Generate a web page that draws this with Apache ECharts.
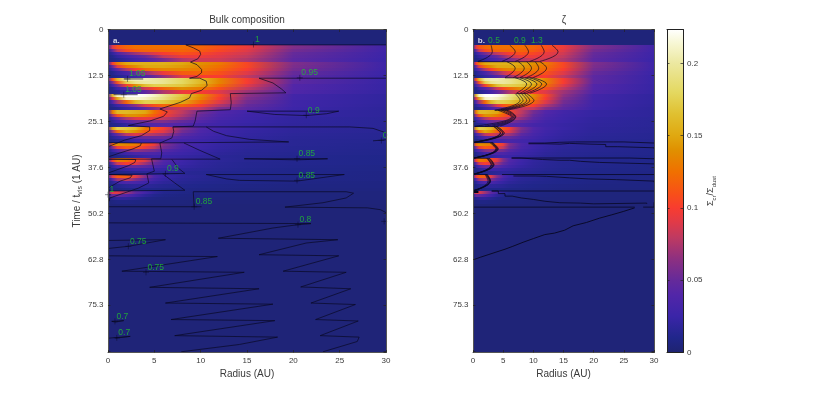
<!DOCTYPE html>
<html><head><meta charset="utf-8">
<style>html,body{margin:0;padding:0;background:#fff}#c{width:830px;height:397px}</style>
<script src="https://cdn.jsdelivr.net/npm/echarts@6/dist/echarts.min.js"></script>
</head><body><div id="c"></div>
<script>
// ---- tick labels
const radiusTicks = [0,5,10,15,20,25,30];
const timeTickLabels = ['0','12.5','25.1','37.6','50.2','62.8','75.3'];
const colorTicks = [0,0.05,0.1,0.15,0.2];
// ---- colour scale
const cmapValues = [0,.01,.025,.04,.05,.065,.08,.09,.1,.11,.125,.14,.15,.165,.18,.2,.215,.2235];
const cmapColors = ['#1e2370','#20268a','#3a25a8','#5226a8','#652a9a','#8e3080','#c03a60','#e03a48','#f83c30','#f85018','#f07000','#e09000','#e0a810','#e0c030','#e4d860','#ece8a0','#f8f8d8','#ffffff'];
// ---- field samples: radius columns, band start times, 5 read rows per band
const radii = [0,.5,1,2,3,4,5,6,8,10,12,15,20,30];
const bandStarts = [4.3,8.8,13.2,17.5,22.1,26.5,30.9,35.2,39.6,44.1,48.4];
const quietTop = [.004,.004,.004,.004,.004,.004,.004,.004,.004,.004,.004,.004,.004,.004];
const quietBottom = [.003,.003,.003,.003,.003,.003,.003,.003,.003,.003,.003,.003,.003,.003];
const band1 = [[.03,.09,.11,.12,.125,.125,.125,.125,.125,.12,.11,.095,.06,.028],[.012,.05,.08,.105,.115,.12,.12,.12,.12,.115,.105,.09,.055,.028],[.008,.02,.035,.055,.07,.08,.09,.1,.11,.105,.095,.085,.05,.027],[.006,.012,.02,.03,.04,.05,.065,.08,.095,.095,.09,.08,.048,.026],[.005,.008,.012,.02,.028,.035,.045,.055,.075,.085,.085,.075,.045,.025]];
const band2 = [[.03,.1,.13,.15,.155,.155,.155,.155,.15,.14,.13,.105,.06,.027],[.012,.05,.09,.125,.14,.15,.15,.15,.145,.135,.125,.105,.058,.027],[.008,.025,.045,.075,.1,.12,.13,.135,.135,.13,.12,.1,.055,.026],[.006,.012,.02,.032,.05,.065,.08,.095,.115,.12,.11,.09,.05,.025],[.005,.008,.012,.02,.027,.037,.05,.065,.09,.1,.1,.08,.045,.024]];
const band3 = [[.04,.11,.16,.2,.205,.205,.2,.195,.18,.16,.135,.1,.045,.024],[.015,.06,.11,.175,.195,.2,.2,.195,.18,.16,.135,.1,.045,.024],[.008,.03,.055,.1,.14,.165,.175,.175,.17,.15,.125,.09,.04,.023],[.006,.012,.025,.04,.06,.085,.105,.12,.14,.13,.11,.08,.04,.023],[.005,.008,.012,.02,.03,.045,.06,.075,.095,.1,.09,.07,.038,.022]];
const band4 = [[.05,.16,.21,.225,.225,.22,.21,.195,.17,.14,.105,.065,.03,.02],[.02,.09,.15,.21,.215,.21,.2,.19,.165,.135,.1,.06,.03,.02],[.01,.04,.07,.12,.16,.175,.175,.17,.15,.12,.09,.055,.028,.02],[.006,.015,.025,.045,.065,.09,.11,.12,.12,.1,.075,.05,.028,.019],[.005,.008,.012,.022,.032,.045,.06,.075,.085,.08,.06,.045,.026,.018]];
const band5 = [[.04,.13,.16,.16,.155,.15,.125,.105,.08,.055,.04,.03,.022,.018],[.015,.07,.11,.14,.14,.13,.115,.1,.075,.05,.037,.028,.022,.018],[.008,.03,.05,.075,.09,.095,.09,.08,.065,.045,.034,.027,.02,.017],[.006,.015,.025,.04,.05,.055,.06,.06,.05,.04,.03,.025,.02,.016],[.005,.01,.012,.02,.03,.035,.04,.042,.04,.032,.028,.023,.019,.016]];
const band6 = [[.05,.15,.175,.17,.16,.13,.115,.1,.06,.04,.03,.024,.018,.015],[.015,.07,.12,.15,.14,.115,.1,.09,.055,.037,.028,.022,.018,.015],[.008,.03,.05,.08,.09,.08,.075,.07,.045,.033,.026,.021,.017,.014],[.006,.015,.022,.035,.045,.05,.05,.05,.037,.03,.024,.02,.016,.014],[.005,.008,.012,.018,.025,.03,.032,.034,.03,.026,.022,.018,.015,.013]];
const band7 = [[.04,.12,.14,.135,.13,.11,.095,.06,.036,.028,.022,.018,.015,.012],[.012,.06,.095,.115,.11,.095,.08,.055,.034,.026,.021,.017,.014,.012],[.007,.025,.04,.06,.065,.06,.055,.042,.03,.024,.02,.016,.014,.011],[.005,.012,.018,.028,.035,.036,.036,.032,.026,.022,.018,.015,.013,.011],[.005,.008,.01,.015,.02,.024,.026,.025,.022,.019,.016,.014,.012,.01]];
const band8 = [[.035,.1,.13,.125,.105,.09,.06,.04,.027,.02,.017,.014,.012,.01],[.012,.05,.085,.1,.09,.07,.05,.036,.025,.019,.016,.013,.012,.01],[.006,.02,.035,.05,.05,.045,.036,.03,.022,.018,.015,.013,.011,.009],[.005,.01,.015,.022,.026,.026,.024,.022,.018,.016,.014,.012,.01,.009],[.005,.007,.009,.012,.015,.017,.018,.017,.015,.014,.012,.011,.01,.008]];
const band9 = [[.03,.09,.115,.115,.09,.06,.036,.025,.018,.015,.012,.011,.009,.008],[.01,.04,.07,.08,.06,.042,.03,.022,.016,.014,.012,.01,.009,.008],[.006,.016,.028,.036,.034,.028,.022,.018,.014,.012,.011,.01,.008,.007],[.005,.008,.012,.016,.018,.017,.015,.013,.011,.01,.009,.008,.007,.007],[.005,.006,.007,.009,.01,.01,.01,.009,.009,.008,.008,.007,.006,.006]];
const band10 = [[.05,.09,.09,.07,.045,.03,.018,.012,.009,.007,.006,.006,.005,.005],[.015,.05,.05,.04,.028,.018,.012,.009,.007,.006,.006,.005,.005,.005],[.006,.014,.018,.018,.014,.01,.008,.007,.006,.005,.005,.005,.005,.005],[.004,.006,.008,.008,.007,.006,.005,.005,.005,.004,.004,.004,.004,.004],[.003,.004,.004,.004,.004,.004,.004,.004,.004,.004,.003,.003,.003,.003]];
// ---- panel a contours [radius, time]
const cA100a = [[30,4.2],[8.4,4.2],[9.2,5],[9.9,5.9],[10,6.8],[9.7,8],[8.9,8.9],[9.6,9.6],[10.1,10.9],[10.1,11.8],[9.6,12.8],[8.8,13.3],[9.9,13.3],[10.6,14.1],[10.7,15.3],[10.1,16.6],[9,17.5],[8.8,18.7],[7.8,19.9],[5.6,21.7],[6.4,22.5],[6,23.7],[4.5,25],[2.2,26.2],[4.5,26.6],[4.5,27.6],[3.6,29],[1.8,30.2],[0,32]];
const cA100b = [[0,30.9],[3.6,31],[3.5,31.7],[2.7,32.6],[1.3,33.7],[0,34.8]];
const cA100c = [[0,35.4],[3,35.5],[2.9,36.3],[2.2,37.2],[0,39.2]];
const cA100d = [[0,39.6],[2.6,39.8],[2.4,40.5],[1.3,41.4],[0,43.3]];
const cA105a = [[1.7,13.5],[3.8,13.5]];
const cA105b = [[.6,17.8],[3.2,17.8]];
const cA095 = [[30,13.3],[16.3,13.3],[17.8,14.6],[18.7,16.2],[19.2,17.3],[13.2,17.5],[13.3,20],[13.2,21.9],[9.6,22.3],[9.4,25],[9.2,26.4],[7,26.6],[7.1,27.8],[6.9,29.6],[5.6,31],[5.8,33.7],[5.7,35.3],[4.7,35.3],[5,38.7],[4.2,39.4],[4.4,41.9],[3.3,43.3],[.2,46],[.1,46.9],[.1,43.5]];
const cA090lens = [[15,22.3],[18,23.2],[21.4,23.5],[23.6,23],[24.9,22.3],[15,22.3]];
const cA090a = [[7,26.6],[26.1,26.6],[28.6,27],[30,28.2]];
const cA090b = [[10.6,26.6],[11.4,27.8],[12.8,29],[15.3,30],[19.5,30.7],[3.6,31]];
const cA090c = [[8.2,31],[9.9,33],[12.1,35.4],[0,35.4]];
const cA090d = [[6.9,35.5],[7.6,37.9],[8.3,39.3],[0,39.6]];
const cA090e = [[6,39.6],[7.2,41.9],[8.3,43.9],[0,44.1]];
const cA090tick = [[28.6,30.4],[30,30.1]];
const cA085lens = [[14.7,35.3],[20.4,35.6],[23.7,35.3],[14.7,35.3]];
const cA085a = [[10.6,39.6],[25.5,39.6],[20.4,41.4],[14.2,41.2],[12.8,40.8],[10.6,39.6]];
const cA085b = [[9.2,44.3],[25.7,44.3],[26.5,44.7],[25.7,46],[23.2,47.3],[19.1,48.5],[28,48.7],[29.4,49.2],[30,50]];
const cA085c = [[9.2,44.3],[9.3,48.4],[0,48.4]];
const cA085d = [[9.3,48.4],[10.1,48.4]];
const cA080 = [[0,52.8],[21.9,53],[20.5,53.3],[17.8,54.2],[15.3,55.4],[11.9,57],[24.8,57.4],[21.4,58.3],[16.3,61.5],[24.9,61.8],[18.9,66],[25.7,66.3],[20.8,70.3],[26.2,70.8],[21.9,74.7],[26.7,75.1],[22.4,79.2],[27,79.6],[22.9,83.6],[27.1,84],[26.9,85.2],[23.2,88]];
const cA075a = [[0,57.6],[6.2,57.4],[2.2,59.2],[0,59.8]];
const cA075b = [[0,61.8],[11.8,62],[1.5,66],[14.7,66.3],[4.5,70.4],[16.3,70.8],[6.2,74.7],[17.8,75],[6.8,79.2],[18,79.5],[7.2,83.6],[18.3,84],[14.2,86],[7.9,88]];
const cA070a = [[.4,79.7],[1.7,79.5],[.8,79.9],[.4,79.7]];
const cA070b = [[0,84.3],[2.4,83.8],[.8,84.3]];
const contoursA = [cA100a,cA100b,cA100c,cA100d,cA105a,cA105b,cA095,cA090lens,cA090a,cA090b,cA090c,cA090d,cA090e,cA090tick,cA085lens,cA085a,cA085b,cA085c,cA085d,cA080,cA075a,cA075b,cA070a,cA070b];
// ---- panel a contour labels [radius, time, text]
const labelsA = [[15.7,4.1,'1'],[20.7,13.2,'0.95'],[2.1,13.5,'1.05'],[1.7,17.8,'1.05'],[21.4,23.4,'0.9'],[29.5,30.3,'0'],[6.2,39.4,'0.9'],[20.4,35.3,'0.85'],[20.4,41.2,'0.85'],[9.3,48.4,'0.85'],[20.5,53.3,'0.8'],[0,45.1,'1'],[29.8,52.4,''],[2.2,59.2,'0.75'],[4.1,66.3,'0.75'],[.75,79.7,'0.7'],[.95,84.2,'0.7']];
// ---- panel b contours: read radius at start, peak and end of each band, 5 contour levels
const zStart = [[3,5.6,7,7,4.2,3.4,2.8,2.3,2],[6.1,7.5,7.8,7.5,4.8,3.5,3,2.4,2.1],[8.6,8.9,8.6,8,5.3,3.8,3.1,2.5,2.2],[11.3,10.3,9.4,8.5,5.6,3.9,3.2,2.7,2.3],[13.1,11.1,10,8.9,5.9,4.1,3.3,2.8,2.4]];
const zPeak = [[3.2,7,8.9,7.8,6.4,4.5,3.8,3,2.5],[7,8.5,9.7,8.3,6.6,4.6,3.9,3.1,2.7],[9.2,9.7,10.6,8.9,6.8,4.9,4,3.3,2.8],[11.8,10.9,11.4,9.4,7,5,4.1,3.4,2.9],[14.1,12.2,12.2,10.1,7.1,5.2,4.2,3.5,2.9]];
const zEnd = [[.8,5.3,7.2,3.6,.3,.1,.1,.1,.1],[4.8,6.7,7.8,4.2,2,.1,.1,.1,.1],[7,7.8,8.3,4.6,3.1,.15,.1,.1,.1],[9.4,8.9,8.9,5,3.9,.2,.15,.1,.1],[11.1,10,9.4,5.6,4.5,.3,.2,.15,.1]];
const bTops = [[[.8,8.8],[11.1,8.8]],[[5.3,13.2],[10,13.2]],[[7.2,17.5],[8.9,17.5]],[[3.6,22.1],[5.9,22.1]],[[.3,26.5],[4.1,26.5]],[[0,30.9],[3.3,30.9]],[[0,35.2],[2.8,35.2]],[[0,39.6],[2.4,39.6]]];
const bBlob = [[0,44.3],[.9,44.3]];
const bAu = [[9.2,31],[11.9,30.8],[14.4,30.7],[17,30.7],[23.3,30.7],[25,31],[30,31.1]];
const bAl = [[9.2,31.2],[11.9,31.3],[14.4,31.1],[16,31.3],[19.4,31.4],[22,32],[24,32.3],[30,32.5]];
const bBu = [[6.4,35.1],[14.4,35.1],[26,35.3],[30,35.1]];
const bBl = [[6.4,35.1],[8,35.3],[9.7,35.5],[11.5,35.7],[14.4,35.7],[16,36],[17.8,36.3],[21,36.7],[30,36.7]];
const bCu = [[4.8,39.6],[30,39.6]];
const bCl = [[6.7,40],[10.3,40.1],[12.2,40.3],[14.1,40.5],[16,40.8],[19.1,41],[23.8,41.4],[30,41.7]];
const bDu = [[3.1,44.1],[30,44.1]];
const bDl = [[3.1,44.1],[4.2,44.8],[5.3,45.5],[6.5,46],[8,46.4],[10,46.9],[11.9,47.3],[14.4,47.4],[17.8,47.6],[20,47.4],[28.8,47.6]];
const bE = [[0,48.5],[26.8,48.5]];
const bF = [[28.2,48.5],[30,47.2]];
const bRise = [[.2,62.8],[1.2,62.2],[2.5,61.5],[3.8,60.8],[5.3,60],[6.6,59.2],[8.3,58.1],[10,57.1],[11.9,56],[13.5,55.6],[15.2,54.8],[16.6,53.6],[18.8,52.7],[21,51.5],[23,50.6],[24.9,49.7],[26.8,48.7]];
const contoursBStep = [bAu,bAl,bBu,bBl,bCu,bCl,bDu,bDl,bE,bF];
const labelsB = [[2.5,3,'0.5'],[6.8,3,'0.9'],[9.6,3,'1.3']];

const bands = [band1,band2,band3,band4,band5,band6,band7,band8,band9,band10];
const tMax = 88.2, cMax = 0.2235;
// Row list [tStart, tEnd, values]
const rows = [[0,bandStarts[0],quietTop]];
bands.forEach((b,i)=>{const t0=bandStarts[i],h=(bandStarts[i+1]-t0)/b.length;b.forEach((vals,j)=>rows.push([t0+j*h,t0+(j+1)*h,vals]));});
rows.push([bandStarts[10],tMax,quietBottom]);

function hex(c){return [1,3,5].map(i=>parseInt(c.substr(i,2),16));}
function colorOf(v){
  let i=1; while(i<cmapValues.length-1 && v>cmapValues[i]) i++;
  const a=cmapValues[i-1],b=cmapValues[i],f=Math.min(1,Math.max(0,(v-a)/(b-a)));
  const A=hex(cmapColors[i-1]),B=hex(cmapColors[i]);
  return 'rgb('+A.map((x,k)=>Math.round(x+(B[k]-x)*f)).join(',')+')';
}
function fieldSeries(xi,yi){
  return {type:'custom',xAxisIndex:xi,yAxisIndex:yi,silent:true,clip:true,z:1,animation:false,
    data:rows.map((r,i)=>[r[0],r[1],i]),encode:{y:[0,1]},
    renderItem(p,api){
      const r=rows[api.value(2)];
      const a=api.coord([0,r[0]]),b=api.coord([30,r[1]]);
      const y0=Math.round(a[1]),y1=Math.round(b[1]);
      return {type:'rect',shape:{x:a[0],y:y0,width:b[0]-a[0],height:y1-y0},
        style:{fill:new echarts.graphic.LinearGradient(0,0,1,0,radii.map((x,k)=>({offset:x/30,color:colorOf(r[2][k])})))}};
    }};
}
const INK='rgba(8,8,35,.92)';
function lineS(data,xi,yi,extra){
  return Object.assign({type:'line',xAxisIndex:xi,yAxisIndex:yi,data,showSymbol:false,symbol:'none',silent:true,animation:false,z:3,
    lineStyle:{color:INK,width:.75}},extra||{});
}
function labelS(data,xi,yi,mark){
  return {type:'scatter',xAxisIndex:xi,yAxisIndex:yi,data,silent:true,animation:false,z:4,clip:true,
    symbol:mark?'path://M5 0V10M0 5H10':'circle',symbolSize:mark?6:0,
    itemStyle:mark?{color:'none',borderColor:INK,borderWidth:.6}:{color:'none'},
    label:{show:true,position:'right',distance:0,offset:mark?[-4,-5]:[0,0],formatter:p=>p.value[2],color:'#20c030',fontSize:8.5,fontFamily:'Liberation Sans'}};
}
function tagS(text,r,xi,yi){
  return {type:'scatter',xAxisIndex:xi,yAxisIndex:yi,data:[[r,3,text]],silent:true,animation:false,z:4,symbolSize:0,
    label:{show:true,position:'right',distance:0,formatter:p=>p.value[2],color:'#fff',fontWeight:'bold',fontSize:8,fontFamily:'Liberation Sans'}};
}
const series=[fieldSeries(0,0),fieldSeries(2,2)];
contoursA.forEach(c=>series.push(lineS(c,0,0)));
series.push(labelS(labelsA,0,0,true),tagS('a.',.55,0,0));
// panel b band curves
zPeak.forEach((peaks,k)=>peaks.forEach((pk,b)=>{
  const t0=bandStarts[b],t1=bandStarts[b+1];
  series.push(lineS([[zStart[k][b],t0],[pk,t0+(t1-t0)*.4],[zEnd[k][b],t1-.1]],2,2,{smooth:.45}));
}));
bTops.forEach(c=>series.push(lineS(c,2,2)));
contoursBStep.forEach(c=>series.push(lineS(c,2,2,{step:'end',lineStyle:{color:INK,width:.85}})));
series.push(lineS(bRise,2,2,{lineStyle:{color:INK,width:1}}));
series.push(lineS(bBlob,2,2,{lineStyle:{color:'#05051c',width:2.6}}));
series.push(labelS(labelsB,2,2,false),tagS('b.',.8,2,2));
// colour bar
series.push({type:'custom',xAxisIndex:4,yAxisIndex:4,silent:true,animation:false,z:1,data:[[0,cMax]],encode:{y:[0,1]},
  renderItem(p,api){
    const a=api.coord([0,cMax]),b=api.coord([1,0]);
    return {type:'rect',shape:{x:a[0],y:a[1],width:b[0]-a[0],height:b[1]-a[1]},
      style:{fill:new echarts.graphic.LinearGradient(0,1,0,0,cmapValues.map((v,i)=>({offset:v/cMax,color:cmapColors[i]})))}};
  }});

const TXT='#3a3a3a', LINE='#555', FF='Liberation Sans';
const tick={show:true,inside:true,length:2.5,lineStyle:{color:'#222',width:.7}};
const al={show:true,onZero:false,lineStyle:{color:LINE,width:1}};
const alBar={show:true,onZero:false,lineStyle:{color:'#222',width:1}};
function xAx(gi,pos,lab){return {type:'value',gridIndex:gi,position:pos,min:0,max:30,interval:5,z:5,splitLine:{show:false},axisLine:al,axisTick:tick,
  axisLabel:{show:lab,color:TXT,fontSize:8,fontFamily:FF,margin:4},
  name:lab?'Radius (AU)':'',nameLocation:'middle',nameGap:12,nameTextStyle:{color:TXT,fontSize:10,fontFamily:FF}};}
function yAx(gi,pos,lab,nm){return {type:'value',gridIndex:gi,position:pos,inverse:true,min:0,max:tMax,interval:12.55,z:5,splitLine:{show:false},axisLine:al,axisTick:tick,
  axisLabel:{show:lab,color:TXT,fontSize:8,fontFamily:FF,margin:4.5,showMaxLabel:false,formatter:v=>timeTickLabels[Math.round(v/12.55)]||''},
  name:nm?'{m|Time / t}{s|vis}{m| (1 AU)}':'',nameLocation:'middle',nameGap:23,nameRotate:90,
  nameTextStyle:{rich:{m:{color:TXT,fontSize:10,fontFamily:FF,lineHeight:14},s:{color:TXT,fontSize:7,fontFamily:FF,verticalAlign:'bottom',lineHeight:11}}}};}
const option={
  animation:false,backgroundColor:'#fff',
  title:[
    {text:'Bulk composition',left:242,top:10,textAlign:'center',textStyle:{color:TXT,fontSize:10,fontWeight:'normal',fontFamily:FF}},
    {text:'ζ',left:559,top:10,textAlign:'center',textStyle:{color:TXT,fontSize:10,fontWeight:'normal',fontFamily:FF}}
  ],
  grid:[
    {left:108,top:29.5,width:278,height:323},
    {left:473,top:29.5,width:181,height:323},
    {left:667,top:29.5,width:16,height:323}
  ],
  xAxis:[xAx(0,'bottom',true),xAx(0,'top',false),xAx(1,'bottom',true),xAx(1,'top',false),
    {type:'value',gridIndex:2,min:0,max:1,axisLabel:{show:false},axisTick:{show:false},splitLine:{show:false},axisLine:alBar,z:5},
    {type:'value',gridIndex:2,position:'top',min:0,max:1,axisLabel:{show:false},axisTick:{show:false},splitLine:{show:false},axisLine:alBar,z:5}],
  yAxis:[yAx(0,'left',true,true),yAx(0,'right',false,false),yAx(1,'left',true,false),yAx(1,'right',false,false),
    {type:'value',gridIndex:2,position:'right',min:0,max:cMax,interval:.05,z:5,splitLine:{show:false},axisLine:alBar,axisTick:tick,
      axisLabel:{show:true,color:TXT,fontSize:8,fontFamily:FF,margin:4,showMaxLabel:false,formatter:v=>colorTicks.includes(+v.toFixed(2))?String(+v.toFixed(2)):''},
      name:'{m|Σ}{s|cr}{m|/Σ}{s|dust}',nameLocation:'middle',nameGap:20,nameRotate:90,
      nameTextStyle:{rich:{m:{color:TXT,fontSize:9,fontFamily:FF,lineHeight:13},s:{color:TXT,fontSize:6,fontFamily:FF,verticalAlign:'bottom',lineHeight:10}}}},
    {type:'value',gridIndex:2,position:'left',min:0,max:cMax,interval:.05,z:5,splitLine:{show:false},axisLine:alBar,axisTick:tick,axisLabel:{show:false}}],
  series
};
const chart=echarts.init(document.getElementById('c'),null,{renderer:'canvas'});
chart.setOption(option);
</script></body></html>
